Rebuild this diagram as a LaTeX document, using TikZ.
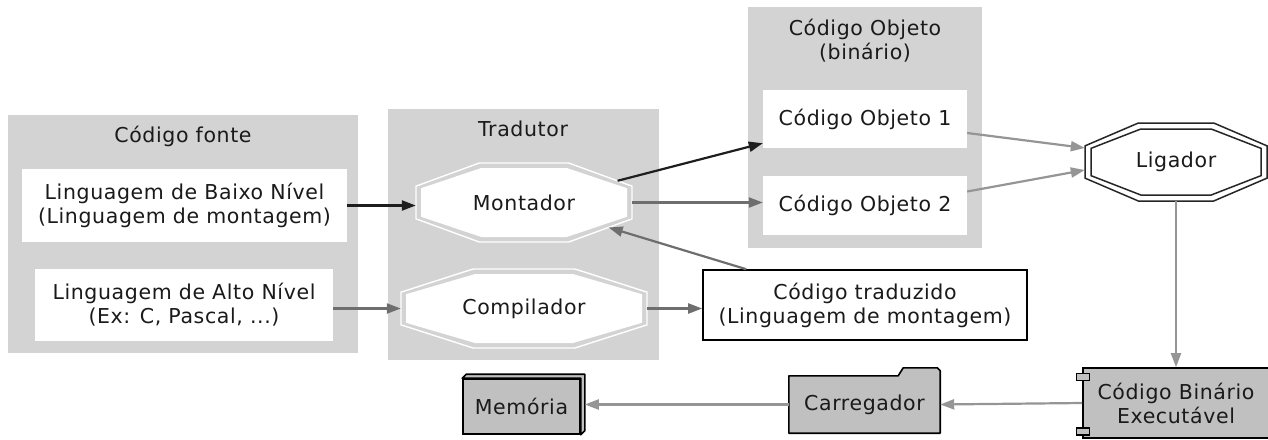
\documentclass[tikz,border=0pt]{standalone}
\usepackage{fontspec}
\setmainfont{DejaVu Sans}[LetterSpace=3]
\usetikzlibrary{arrows.meta,calc}
\definecolor{clus}{HTML}{D3D3D3}
\definecolor{nodegray}{HTML}{C0C0C0}
\definecolor{arrblack}{HTML}{1E1E1E}
\definecolor{arrmid}{HTML}{6E6E6E}
\definecolor{arrlight}{HTML}{959595}
\definecolor{txt}{HTML}{1A1A1A}
\newcommand\octpath[4]{({#1-#3},{#2-0.414*#4}) -- ({#1-0.414*#3},{#2-#4}) -- ({#1+0.414*#3},{#2-#4}) -- ({#1+#3},{#2-0.414*#4}) -- ({#1+#3},{#2+0.414*#4}) -- ({#1+0.414*#3},{#2+#4}) -- ({#1-0.414*#3},{#2+#4}) -- ({#1-#3},{#2+0.414*#4}) -- cycle}
\tikzset{
  lbl/.style={text=txt, font=\fontsize{20.5}{24}\selectfont, align=center, inner sep=0pt},
  whitebox/.style={lbl, fill=white, draw=none},
  plainbox/.style={lbl, fill=white, draw=black, line width=1.6pt},
  graybox/.style={lbl, fill=nodegray, draw=black, line width=1.6pt},
  octnode/.style={lbl},
  conn/.style={line width=2.2pt, -{Triangle[length=14pt,width=10pt]}},
  cblack/.style={conn, draw=arrblack, fill=arrblack},
  cmid/.style={conn, draw=arrmid, fill=arrmid},
  clight/.style={conn, draw=arrlight, fill=arrlight},
}
\begin{document}
\begin{tikzpicture}[x=1pt,y=-1pt]
\useasboundingbox (0,0) rectangle (1268,439);
% clusters
\fill[clus] (8,115) rectangle (358,353);
\fill[clus] (388,109) rectangle (659,360);
\fill[clus] (748,7) rectangle (982,248);
\node[lbl] (tfonte) at (183,136) {Código fonte};
\node[lbl] (ttrad) at (523,129) {Tradutor};
\node[lbl] (tobj) at (865,41) {Código Objeto\\(binário)};
% source boxes
\node[whitebox, minimum width=325, minimum height=73] (baixo) at (184.5,205.5) {Linguagem de Baixo Nível\\(Linguagem de montagem)};
\node[whitebox, minimum width=298, minimum height=72] (alto) at (184,305) {Linguagem de Alto Nível\\(Ex: C, Pascal, ...)};
% octagons
\draw[white, line width=1.4pt] \octpath{524}{202.5}{108}{39.5};
\fill[white] \octpath{524}{202.5}{103}{34.5};
\node[octnode, minimum width=216, minimum height=79] (mont) at (524,202.5) {Montador};
\draw[white, line width=1.4pt] \octpath{524}{308.5}{123}{39.5};
\fill[white] \octpath{524}{308.5}{118}{34.5};
\node[octnode, minimum width=246, minimum height=79] (comp) at (524,308.5) {Compilador};
% object code boxes
\node[whitebox, minimum width=204, minimum height=58] (obj1) at (865,119) {Código Objeto 1};
\node[whitebox, minimum width=204, minimum height=59] (obj2) at (865,205.5) {Código Objeto 2};
% translated code
\node[plainbox, minimum width=324, minimum height=70] (trad) at (865,305) {Código traduzido\\(Linguagem de montagem)};
% linker
\draw[fill=white, draw=black!85, line width=1.5pt] \octpath{1176}{162}{91}{39};
\draw[draw=black!85, line width=1.5pt] \octpath{1176}{162}{85}{33};
\node[octnode, minimum width=182, minimum height=78] (lig) at (1176,162) {Ligador};
% executable (component)
\node[graybox, minimum width=186, minimum height=70] (bin) at (1176,403) {Código Binário\\Executável};
\draw[fill=nodegray, draw=black, line width=1.4pt] ($(bin.north west)+(-6,6)$) rectangle ++(13,7);
\draw[fill=nodegray, draw=black, line width=1.4pt] ($(bin.south west)+(-6,-11)$) rectangle ++(13,7);
% loader (folder)
\node[lbl, minimum width=151, minimum height=57] (carr) at (864.5,404.5) {};
\draw[fill=nodegray, draw=black, line width=1.6pt, line join=round]
  (carr.north west) -- ($(carr.north east)+(-42,0)$) -- ($(carr.north east)+(-37,-8)$)
  -- ($(carr.north east)+(-3,-8)$) -- ($(carr.north east)+(0,-5)$) -- (carr.south east)
  -- (carr.south west) -- cycle;
\node[lbl] (carrtxt) at (carr.center) {Carregador};
% memory (box3d)
\node[graybox, minimum width=117, minimum height=55] (mem) at (521.5,406.5) {Memória};
\draw[fill=nodegray, draw=black, line width=1.6pt, line join=round]
  (mem.north west) -- ++(4,-4) -- ($(mem.north east)+(4,-4)$) -- ($(mem.south east)+(4,-4)$)
  -- (mem.south east) -- (mem.north east) -- cycle;
% connectors
\draw[cblack] (baixo.east) -- (baixo.east -| mont.west);
\draw[cmid] (alto.east |- comp.west) -- (comp.west);
\coordinate (montA) at ($(mont.north)+({0.414*108},0)$);
\coordinate (montB) at ($(mont.east)+(0,{-0.414*39.5})$);
\coordinate (montC) at ($(mont.east)+(0,{0.414*39.5})$);
\coordinate (montD) at ($(mont.south)+({0.414*108},0)$);
\draw[cblack] ($(montA)!0.77!(montB)$) -- ($(obj1.south west)+(0,-5)$);
\draw[cmid] (mont.east) -- (mont.east -| obj2.west);
\draw[cmid] (comp.east) -- (comp.east -| trad.west);
\draw[cmid] ($(trad.north west)+(44,0)$) -- ($(montC)!0.37!(montD)$);
\draw[clight] ($(obj1.east)+(0,14)$) -- ($(lig.west)+(0,-14)$);
\draw[clight] ($(obj2.east)+(0,-14)$) -- ($(lig.west)+(0,8)$);
\draw[clight] (lig.south) -- (bin.north);
\draw[clight] (bin.west) -- (carr.east);
\draw[clight] (carr.west) -- ($(mem.east)+(4,-2)$);
\end{tikzpicture}
\end{document}
